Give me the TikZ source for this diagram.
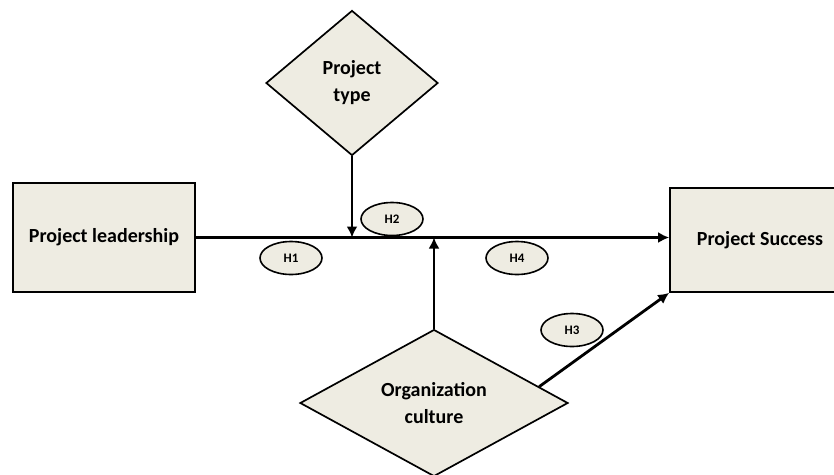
\documentclass[tikz,border=0pt]{standalone}
\usepackage{fontspec}
\setmainfont{Carlito}
\usetikzlibrary{shapes.geometric, arrows.meta, calc}
\definecolor{boxfill}{RGB}{238,236,226}

\begin{document}
\begin{tikzpicture}[x=1pt,y=-1pt,
  box/.style={draw, line width=1.7pt, fill=boxfill, inner sep=0pt, font=\bfseries\fontsize{20}{26}\selectfont},
  dia/.style={diamond, draw, line width=1.7pt, fill=boxfill, inner sep=0pt, align=center, font=\bfseries\fontsize{20}{27}\selectfont},
  hyp/.style={ellipse, draw, line width=1.6pt, fill=boxfill, inner sep=0pt, minimum width=62pt, minimum height=33pt, font=\bfseries\fontsize{13}{15}\selectfont},
  link/.style={line width=2.8pt, -{Latex[length=11pt,width=11pt]}}]
\useasboundingbox (0,0) rectangle (834,474);
\node[box, minimum width=182pt, minimum height=109pt] (lead) at (104,237.5) {Project leadership};
\node[box, minimum width=180pt, minimum height=104pt] (succ) at (760,240) {Project Success};
\node[dia, minimum width=172pt, minimum height=145pt] (type) at (352,83) {Project\\type};
\node[dia, minimum width=268pt, minimum height=146pt] (culture) at (434,403) {Organization\\culture};
\coordinate (c3) at ($(culture.north)!0.78!(culture.east)$);

\draw[link] (lead.east) -- (lead.east -| succ.west);
\draw[link] (type.south) -- (type.south |- lead.east);
\draw[link] (culture.north) -- (culture.north |- lead.east);
\draw[link] (c3) -- (succ.south west);

\node[hyp] (h1) at (291,258) {H1};
\node[hyp] (h2) at (392,219) {H2};
\node[hyp] (h4) at (517,258) {H4};
\node[hyp] (h3) at (572,330) {H3};
\end{tikzpicture}
\end{document}
